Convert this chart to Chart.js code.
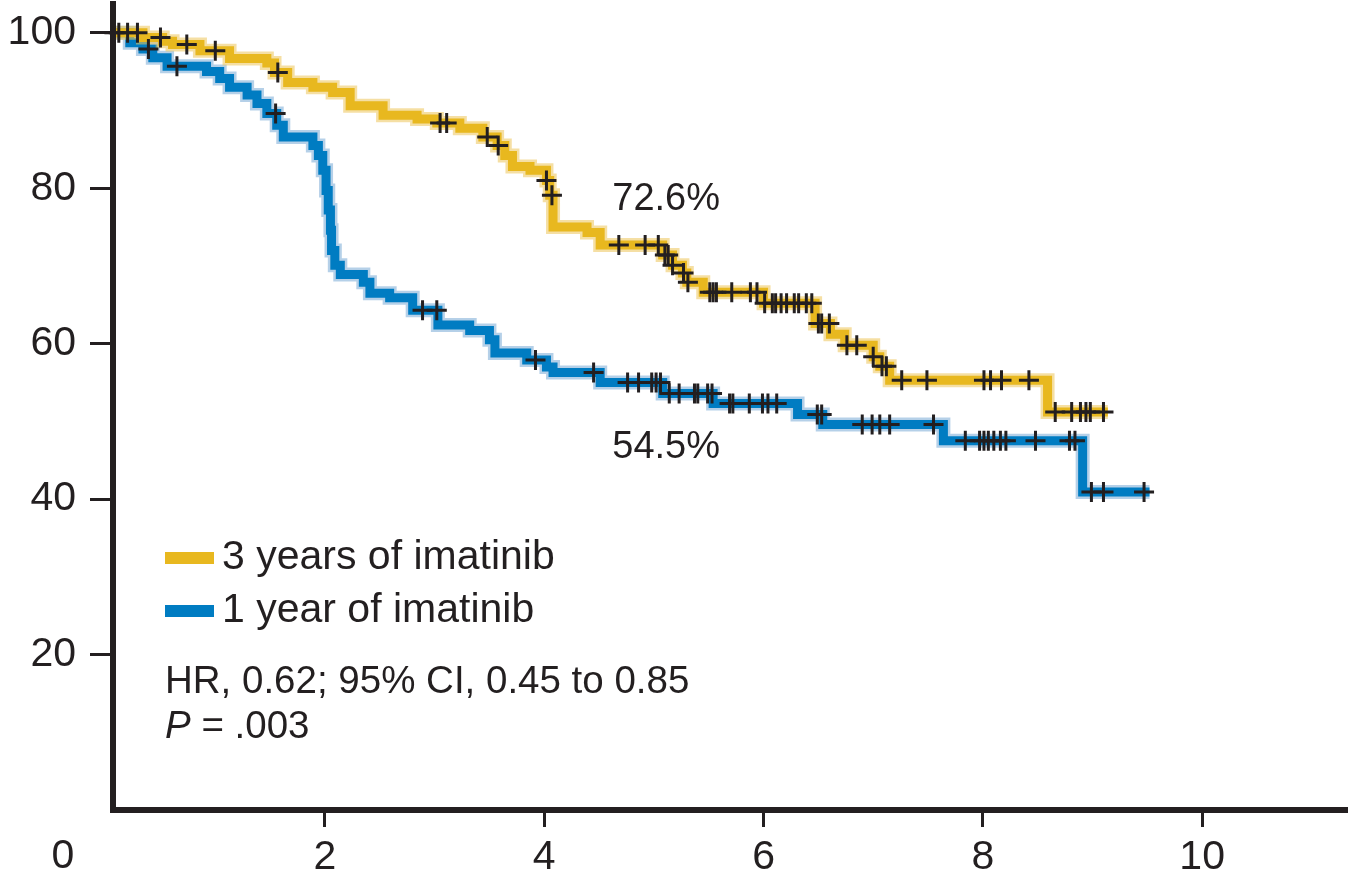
<!DOCTYPE html>
<html>
<head>
<meta charset="utf-8">
<script src="https://cdn.jsdelivr.net/npm/chart.js@4.4.1/dist/chart.umd.min.js"></script>
<style>
html,body{margin:0;padding:0;background:#ffffff;}
#wrap{width:1348px;height:880px;position:relative;}
</style>
</head>
<body>
<div id="wrap"><canvas id="c" width="1348" height="880"></canvas></div>
<script>
// ---------------- data ----------------
const seriesNames = ['3 years of imatinib', '1 year of imatinib'];

// 3 years of imatinib: step times (years) and survival (%)
const threeYrTime = [0, 0.34, 0.52, 0.61, 0.86, 1.13, 1.47, 1.54, 1.66, 1.89, 2.07, 2.23, 2.53, 2.84, 3.02, 3.23, 3.44, 3.57, 3.64, 3.71, 3.87, 4.02, 4.05, 4.08, 4.39, 4.51, 5.08, 5.17, 5.26, 5.30, 5.45, 6.00, 6.47, 6.61, 6.74, 7.00, 7.06, 7.15, 8.59, 9.14];
const threeYrSurv = [100, 99.4, 98.9, 98.5, 97.7, 96.7, 96.1, 94.9, 93.6, 93.0, 92.3, 90.6, 89.4, 88.9, 88.4, 87.7, 86.6, 85.5, 84.2, 82.8, 82.3, 81.0, 79.1, 75.0, 74.3, 72.7, 71.4, 70.1, 69.1, 67.9, 66.6, 65.2, 62.6, 61.2, 59.8, 58.3, 57.1, 55.3, 51.2, 51.2];
const threeYrCensorTime = [0.08, 0.12, 0.20, 0.29, 0.50, 0.74, 1.00, 1.57, 3.05, 3.11, 3.48, 3.58, 4.02, 4.07, 4.68, 4.92, 5.04, 5.10, 5.13, 5.17, 5.27, 5.31, 5.51, 5.54, 5.57, 5.71, 5.88, 5.94, 6.01, 6.08, 6.11, 6.16, 6.21, 6.28, 6.32, 6.39, 6.44, 6.50, 6.53, 6.60, 6.76, 6.85, 7.00, 7.08, 7.12, 7.26, 7.49, 8.01, 8.07, 8.17, 8.42, 8.66, 8.81, 8.89, 8.94, 8.98, 9.10];
const threeYrCensorSurv = [100, 100, 100, 100, 99.4, 98.5, 97.7, 94.9, 88.4, 88.4, 86.6, 85.5, 81.0, 79.1, 72.7, 72.7, 72.7, 71.4, 71.4, 70.1, 69.1, 67.9, 66.6, 66.6, 66.6, 66.6, 66.6, 66.6, 65.2, 65.2, 65.2, 65.2, 65.2, 65.2, 65.2, 65.2, 65.2, 62.6, 62.6, 62.6, 59.8, 59.8, 58.3, 57.1, 57.1, 55.3, 55.3, 55.3, 55.3, 55.3, 55.3, 51.2, 51.2, 51.2, 51.2, 51.2, 51.2];

// 1 year of imatinib
const oneYrTime = [0, 0.22, 0.34, 0.43, 0.56, 0.92, 1.04, 1.13, 1.29, 1.38, 1.47, 1.56, 1.62, 1.89, 1.94, 1.98, 2.01, 2.03, 2.05, 2.06, 2.09, 2.14, 2.35, 2.41, 2.59, 2.80, 3.03, 3.32, 3.50, 3.55, 3.84, 4.02, 4.08, 4.51, 5.08, 5.54, 6.31, 6.54, 7.64, 8.91, 9.52];
const oneYrSurv = [100, 98.7, 97.9, 96.8, 95.7, 95.0, 94.1, 93.0, 92.0, 90.9, 89.6, 88.1, 86.6, 85.5, 84.2, 82.3, 79.7, 77.2, 74.6, 72.0, 70.1, 68.9, 67.9, 66.5, 65.9, 64.3, 62.4, 61.7, 60.5, 58.8, 57.9, 57.0, 56.3, 55.0, 53.6, 52.3, 50.9, 49.6, 47.5, 40.9, 40.9];
const oneYrCensorTime = [0.39, 0.65, 1.55, 2.89, 3.02, 3.92, 4.45, 4.76, 4.86, 4.98, 5.02, 5.06, 5.14, 5.23, 5.37, 5.40, 5.49, 5.53, 5.69, 5.72, 5.87, 5.99, 6.04, 6.12, 6.49, 6.53, 6.90, 6.99, 7.06, 7.15, 7.55, 7.84, 7.97, 8.01, 8.05, 8.10, 8.16, 8.21, 8.48, 8.79, 8.84, 8.99, 9.10, 9.47];
const oneYrCensorSurv = [97.9, 95.7, 89.6, 64.3, 64.3, 57.9, 56.3, 55.0, 55.0, 55.0, 55.0, 55.0, 53.6, 53.6, 53.6, 53.6, 53.6, 53.6, 52.3, 52.3, 52.3, 52.3, 52.3, 52.3, 50.9, 50.9, 49.6, 49.6, 49.6, 49.6, 49.6, 47.5, 47.5, 47.5, 47.5, 47.5, 47.5, 47.5, 47.5, 47.5, 47.5, 40.9, 40.9, 40.9];

const xTicks = [2, 4, 6, 8, 10];
const yTicks = [20, 40, 60, 80, 100];
const cornerLabel = '0';
const fiveYearLabels = ['72.6%', '54.5%'];
const statText = 'HR, 0.62; 95% CI, 0.45 to 0.85';
const pLabel = 'P';
const pValueText = ' = .003';

// ---------------- style ----------------
const INK = '#231f20';
const YELLOW = '#e8b81f';
const BLUE = '#007cc2';
const YELLOW_HALO = 'rgba(236,196,90,0.55)';
const BLUE_HALO = 'rgba(90,150,205,0.45)';
const FAM = "'Liberation Sans', Arial, Helvetica, sans-serif";

function pts(xs, ys) { return xs.map((x, i) => ({ x: x, y: ys[i] })); }

function stepSet(label, xs, ys, color, width, order) {
  return {
    label: label, data: pts(xs, ys), stepped: true,
    borderColor: color, borderWidth: width, pointRadius: 0,
    borderJoinStyle: 'miter', borderCapStyle: 'butt', fill: false, order: order
  };
}
function censorSet(label, xs, ys) {
  return {
    label: label, data: pts(xs, ys), showLine: false,
    pointStyle: 'cross', pointRadius: 10, pointBorderWidth: 3,
    pointBorderColor: INK, pointBackgroundColor: INK, borderColor: INK, order: 0, clip: false
  };
}

const overlay = {
  id: 'overlay',
  afterDraw(chart) {
    const { ctx, chartArea: a, scales: { x, y } } = chart;
    ctx.save();
    ctx.fillStyle = INK;
    // corner zero
    ctx.font = '41px ' + FAM;
    ctx.textAlign = 'center';
    ctx.textBaseline = 'middle';
    ctx.fillText(cornerLabel, a.left - 50, a.bottom + 47);

    // 5-year labels
    ctx.font = '38px ' + FAM;
    ctx.textAlign = 'left';
    ctx.fillText(fiveYearLabels[0], x.getPixelForValue(4.62), y.getPixelForValue(78.5));
    ctx.fillText(fiveYearLabels[1], x.getPixelForValue(4.62), y.getPixelForValue(46.7));

    // legend
    const lx = a.left + 52;
    const rows = [
      { c: YELLOW, t: seriesNames[0], cy: 558 },
      { c: BLUE, t: seriesNames[1], cy: 611 }
    ];
    ctx.font = '41px ' + FAM;
    rows.forEach(r => {
      ctx.fillStyle = r.c;
      ctx.fillRect(lx, r.cy - 6, 49, 12);
      ctx.fillStyle = INK;
      ctx.fillText(r.t, lx + 57, r.cy);
    });

    // statistics
    ctx.font = '38.5px ' + FAM;
    ctx.fillText(statText, lx, 682);
    ctx.font = 'italic 38.5px ' + FAM;
    ctx.fillText(pLabel, lx, 727);
    const pw = ctx.measureText(pLabel).width;
    ctx.font = '38.5px ' + FAM;
    ctx.fillText(pValueText, lx + pw, 727);
    ctx.restore();
  }
};

new Chart(document.getElementById('c'), {
  type: 'line',
  data: {
    datasets: [
      censorSet(seriesNames[0] + ' censored', threeYrCensorTime, threeYrCensorSurv),
      censorSet(seriesNames[1] + ' censored', oneYrCensorTime, oneYrCensorSurv),
      stepSet(seriesNames[0], threeYrTime, threeYrSurv, YELLOW, 9, 1),
      stepSet(seriesNames[0] + ' halo', threeYrTime, threeYrSurv, YELLOW_HALO, 14, 2),
      stepSet(seriesNames[1], oneYrTime, oneYrSurv, BLUE, 9, 3),
      stepSet(seriesNames[1] + ' halo', oneYrTime, oneYrSurv, BLUE_HALO, 14, 4)
    ]
  },
  options: {
    responsive: false,
    animation: false,
    devicePixelRatio: 1,
    layout: { autoPadding: false, padding: { top: 4, left: 0, right: 0, bottom: 0 } },
    plugins: { legend: { display: false }, tooltip: { enabled: false } },
    scales: {
      x: {
        type: 'linear', min: 0.067, max: 11.33,
        afterBuildTicks: s => { s.ticks = xTicks.map(v => ({ value: v })); },
        afterFit: s => { s.height = 70; s.paddingLeft = 0; s.paddingRight = 0; },
        grid: { drawOnChartArea: false, drawTicks: true, tickLength: 17, lineWidth: 3, color: INK },
        border: { display: true, width: 6, color: INK, z: 1 },
        ticks: { font: { family: FAM, size: 41 }, color: INK, padding: 6, maxRotation: 0, autoSkip: false }
      },
      y: {
        type: 'linear', min: 0, max: 103.7,
        afterBuildTicks: s => { s.ticks = yTicks.map(v => ({ value: v })); },
        afterFit: s => { s.width = 113; s.paddingTop = 0; s.paddingBottom = 0; },
        grid: { drawOnChartArea: false, drawTicks: true, tickLength: 23, lineWidth: 3, color: INK },
        border: { display: true, width: 6, color: INK, z: 1 },
        ticks: { font: { family: FAM, size: 41 }, color: INK, padding: 14, autoSkip: false }
      }
    }
  },
  plugins: [overlay]
});
</script>
</body>
</html>
